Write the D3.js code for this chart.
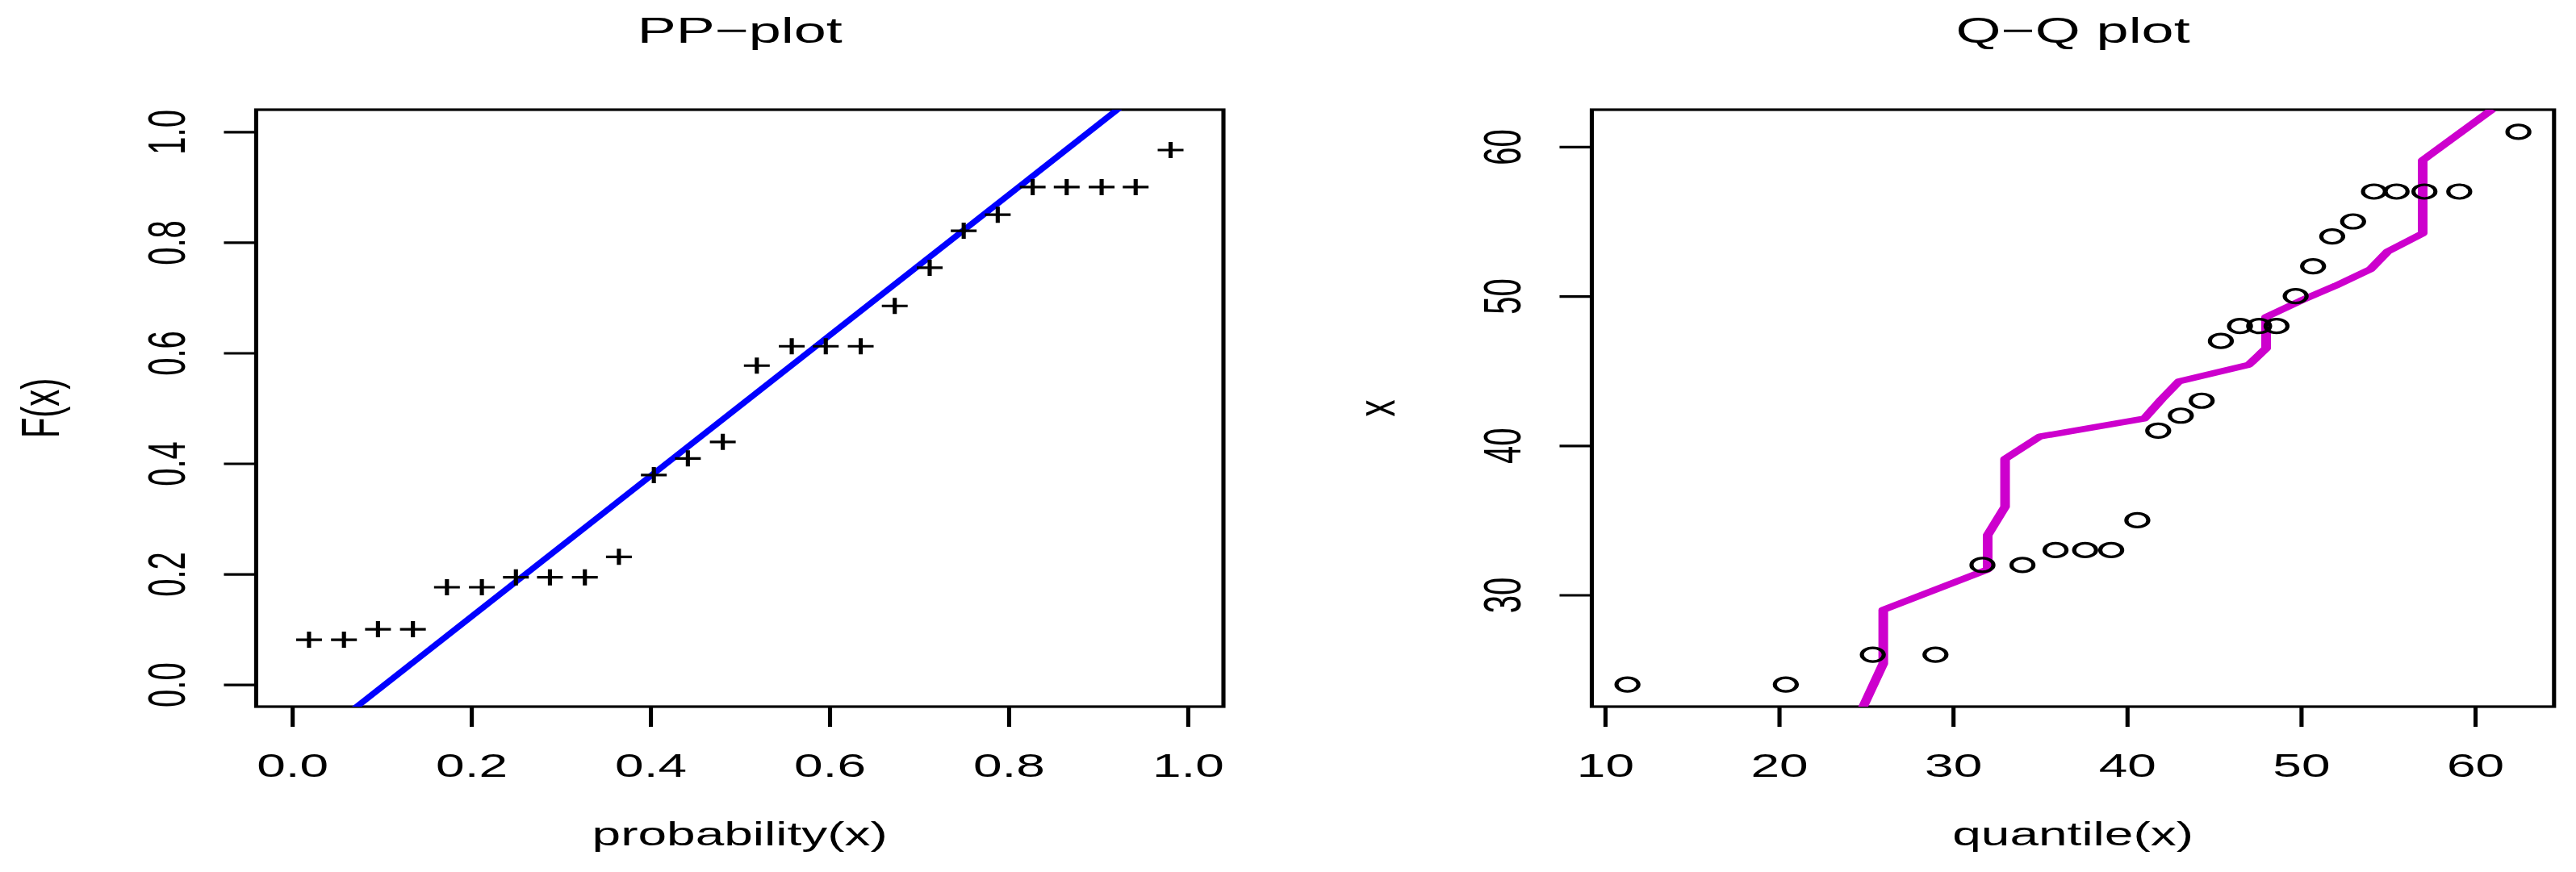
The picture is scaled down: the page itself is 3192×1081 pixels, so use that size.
<!DOCTYPE html>
<html>
<head>
<meta charset="utf-8">
<script src="https://cdn.jsdelivr.net/npm/d3@7"></script>
<style>
  html, body { margin: 0; padding: 0; background: #fff; }
  text { font-family: "Liberation Sans", Arial, Helvetica, sans-serif; fill: #000; }
</style>
</head>
<body>
<svg id="chart"></svg>
<script>
// PP-plot : probabilites empiriques (x) et F(x) ajustee (y)
var ppProb = [0.019, 0.058, 0.096, 0.135, 0.173, 0.212, 0.250, 0.288, 0.327, 0.365, 0.404, 0.442, 0.481,
              0.519, 0.558, 0.596, 0.635, 0.673, 0.712, 0.750, 0.788, 0.827, 0.865, 0.904, 0.942, 0.981];
var ppF = [0.081, 0.081, 0.100, 0.100, 0.176, 0.176, 0.194, 0.194, 0.194, 0.231, 0.379, 0.409, 0.439,
           0.577, 0.612, 0.612, 0.612, 0.685, 0.754, 0.821, 0.850, 0.900, 0.900, 0.900, 0.900, 0.967];
var ppLim = [0, 1];
var ppIntercept = -0.132, ppSlope = 1.272;   // droite bleue
var ppTicks = [0, 0.2, 0.4, 0.6, 0.8, 1.0];

// Q-Q plot : quantiles theoriques (x) et donnees triees (y)
var qqQuantile = [11.3, 20.4, 25.4, 29.0, 31.7, 34.0, 35.9, 37.6, 39.1, 40.6, 41.8, 43.1, 44.3,
                  45.4, 46.5, 47.6, 48.6, 49.7, 50.7, 51.8, 53.0, 54.2, 55.5, 57.1, 59.1, 62.5];
var qqData = [24, 24, 26, 26, 32, 32, 33, 33, 33, 35, 41, 42, 43,
              47, 48, 48, 48, 50, 52, 54, 55, 57, 57, 57, 57, 61];
var qqTicksX = [10, 20, 30, 40, 50, 60];
var qqTicksY = [30, 40, 50, 60];

// dimensions : le graphique d'origine est etire horizontalement
var width = 3192, height = 1081, stretch = 1.6;
var boxTop = 136, boxBottom = 876;
var font = '"Liberation Sans", Arial, Helvetica, sans-serif';

var svg = d3.select("#chart")
    .attr("width", width)
    .attr("height", height);

svg.append("rect").attr("width", width).attr("height", height).attr("fill", "#fff");

var root = svg.append("g").attr("transform", "scale(" + stretch + ",1)");

// limites a la R : etendue + 4% de chaque cote
function rlim(ext) {
    var d = (ext[1] - ext[0]) * 0.04;
    return [ext[0] - d, ext[1] + d];
}

function drawPanel(p) {
    var g = root.append("g");
    var x = d3.scaleLinear().domain(p.xdom).range([p.left, p.right]);
    var y = d3.scaleLinear().domain(p.ydom).range([boxBottom, boxTop]);

    // clip
    g.append("clipPath").attr("id", p.id + "-clip")
        .append("rect")
        .attr("x", p.left).attr("y", boxTop)
        .attr("width", p.right - p.left).attr("height", boxBottom - boxTop);

    // axe X
    var ax = g.append("g")
        .attr("transform", "translate(0," + boxBottom + ")")
        .call(d3.axisBottom(x).tickValues(p.xticks).tickFormat(p.fmt)
            .tickSize(25).tickSizeOuter(0).tickPadding(34));
    ax.select(".domain").remove();
    ax.selectAll("line").attr("stroke-width", 3.2);
    ax.selectAll("text").attr("font-size", 40).attr("font-family", font);

    // axe Y, etiquettes tournees comme dans R
    var ay = g.append("g")
        .attr("transform", "translate(" + p.left + ",0)")
        .call(d3.axisLeft(y).tickValues(p.yticks).tickFormat(p.fmt)
            .tickSize(25).tickSizeOuter(0));
    ay.select(".domain").remove();
    ay.selectAll("line").attr("stroke-width", 3.2);
    ay.selectAll("text")
        .attr("x", null).attr("dy", null)
        .attr("text-anchor", "middle")
        .attr("transform", "translate(-55,0) rotate(-90)")
        .attr("font-size", 40).attr("font-family", font);

    // cadre
    g.append("rect")
        .attr("x", p.left).attr("y", boxTop)
        .attr("width", p.right - p.left).attr("height", boxBottom - boxTop)
        .attr("fill", "none").attr("stroke", "#000").attr("stroke-width", 3.2);

    // titres
    var cx = (p.left + p.right) / 2;
    g.append("text").attr("x", cx).attr("y", 53)
        .attr("text-anchor", "middle").attr("font-size", 45).text(p.title);
    g.append("text").attr("x", cx).attr("y", 1048)
        .attr("text-anchor", "middle").attr("font-size", 40).text(p.xlab);
    g.append("text")
        .attr("transform", "translate(" + (p.left - 153) + "," + ((boxTop + boxBottom) / 2) + ") rotate(-90)")
        .attr("text-anchor", "middle").attr("font-size", 42).text(p.ylab);

    return { g: g, x: x, y: y, clip: "url(#" + p.id + "-clip)" };
}

/*------------------------------- PP-plot ------------------------------------------*/
var pp = drawPanel({
    id: "pp", left: 198.4, right: 947.5,
    xdom: rlim(ppLim), ydom: rlim(ppLim),
    xticks: ppTicks, yticks: ppTicks, fmt: d3.format(".1f"),
    title: "PP\u2212plot", xlab: "probability(x)", ylab: "F(x)"
});

var ppEnds = pp.x.domain();
pp.g.append("path")
    .datum(ppEnds)
    .attr("clip-path", pp.clip)
    .attr("fill", "none")
    .attr("stroke", "#0000ff")
    .attr("stroke-width", 6)
    .attr("d", d3.line()
        .x(function(d) { return pp.x(d); })
        .y(function(d) { return pp.y(ppIntercept + ppSlope * d); }));

pp.g.selectAll(".plus")
    .data(d3.zip(ppProb, ppF))
    .enter().append("path")
    .attr("class", "plus")
    .attr("transform", function(d) { return "translate(" + pp.x(d[0]) + "," + pp.y(d[1]) + ")"; })
    .attr("d", "M-10,0H10M0,-10V10")
    .attr("fill", "none")
    .attr("stroke", "#000")
    .attr("stroke-width", 3.2);

/*------------------------------- Q-Q plot ------------------------------------------*/
var qq = drawPanel({
    id: "qq", left: 1232.8, right: 1978,
    xdom: rlim(d3.extent(qqQuantile)), ydom: rlim(d3.extent(qqData)),
    xticks: qqTicksX, yticks: qqTicksY, fmt: d3.format("d"),
    title: "Q\u2212Q plot", xlab: "quantile(x)", ylab: "x"
});

// ligne magenta : donnees en x, quantiles en y
qq.g.append("path")
    .datum(d3.zip(qqData, qqQuantile))
    .attr("clip-path", qq.clip)
    .attr("fill", "none")
    .attr("stroke", "#cd00cd")
    .attr("stroke-width", 7.5)
    .attr("stroke-linejoin", "round")
    .attr("d", d3.line()
        .x(function(d) { return qq.x(d[0]); })
        .y(function(d) { return qq.y(d[1]); }));

qq.g.selectAll(".pt")
    .data(d3.zip(qqQuantile, qqData))
    .enter().append("circle")
    .attr("class", "pt")
    .attr("cx", function(d) { return qq.x(d[0]); })
    .attr("cy", function(d) { return qq.y(d[1]); })
    .attr("r", 8.5)
    .attr("fill", "none")
    .attr("stroke", "#000")
    .attr("stroke-width", 3.2);
</script>
</body>
</html>
